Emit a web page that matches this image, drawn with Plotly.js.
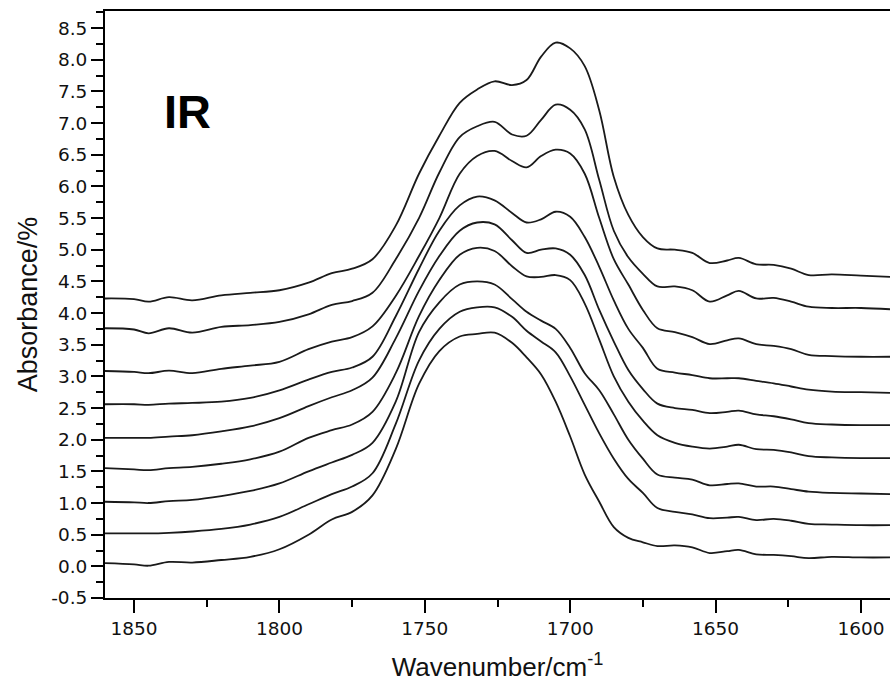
<!DOCTYPE html>
<html>
<head>
<meta charset="utf-8">
<script src="https://cdn.plot.ly/plotly-3.0.1.min.js"></script>
<style>html,body{margin:0;padding:0;background:#fff;}#chart{width:890px;height:682px;}</style>
</head>
<body>
<div id="chart"></div>
<script>
var wavenumber = [1860,1850,1845,1838,1830,1820,1810,1800,1790,1782,1775,1768,1760,1752,1745,1738,1732,1726,1720,1715,1710,1705,1700,1695,1690,1685,1680,1675,1670,1664,1658,1652,1646,1642,1636,1630,1624,1618,1610,1600,1590];

var spectrum1 = [0.05,0.03,0.01,0.07,0.06,0.10,0.15,0.27,0.50,0.74,0.86,1.12,1.85,2.88,3.40,3.63,3.67,3.69,3.53,3.30,3.03,2.60,2.05,1.45,1.02,0.62,0.45,0.38,0.32,0.33,0.30,0.21,0.24,0.26,0.19,0.18,0.16,0.13,0.15,0.14,0.14];
var spectrum2 = [0.52,0.52,0.52,0.53,0.55,0.59,0.66,0.78,0.98,1.14,1.26,1.47,2.25,3.25,3.75,4.02,4.09,4.09,3.94,3.72,3.55,3.38,3.00,2.55,2.10,1.70,1.38,1.16,0.92,0.86,0.82,0.76,0.77,0.78,0.73,0.75,0.72,0.67,0.66,0.65,0.65];
var spectrum3 = [1.02,1.01,1.00,1.03,1.05,1.11,1.19,1.31,1.50,1.64,1.76,1.95,2.60,3.70,4.17,4.45,4.50,4.45,4.22,4.02,3.88,3.75,3.45,3.05,2.78,2.40,2.00,1.70,1.45,1.40,1.37,1.28,1.30,1.31,1.26,1.26,1.22,1.18,1.16,1.15,1.14];
var spectrum4 = [1.55,1.53,1.52,1.55,1.57,1.62,1.69,1.81,2.03,2.15,2.24,2.44,3.05,3.95,4.52,4.92,5.03,4.98,4.74,4.58,4.57,4.60,4.52,4.15,3.58,3.00,2.60,2.30,2.07,1.95,1.89,1.86,1.89,1.92,1.85,1.84,1.80,1.74,1.72,1.71,1.71];
var spectrum5 = [2.03,2.03,2.03,2.05,2.07,2.13,2.21,2.34,2.53,2.67,2.78,2.98,3.60,4.35,4.90,5.30,5.43,5.40,5.15,4.95,5.00,5.02,4.92,4.60,4.05,3.55,3.10,2.80,2.57,2.50,2.47,2.42,2.44,2.46,2.40,2.37,2.32,2.26,2.24,2.23,2.23];
var spectrum6 = [2.56,2.56,2.55,2.57,2.58,2.60,2.66,2.78,2.95,3.07,3.14,3.31,3.95,4.70,5.30,5.70,5.84,5.78,5.58,5.43,5.48,5.60,5.52,5.20,4.73,4.20,3.75,3.45,3.12,3.06,3.02,2.97,2.97,2.97,2.93,2.89,2.84,2.79,2.76,2.75,2.74];
var spectrum7 = [3.085,3.07,3.05,3.09,3.05,3.12,3.17,3.23,3.43,3.55,3.62,3.79,4.27,4.90,5.50,6.20,6.48,6.56,6.40,6.30,6.48,6.58,6.52,6.20,5.50,4.85,4.45,4.05,3.76,3.70,3.62,3.51,3.57,3.60,3.51,3.48,3.43,3.34,3.32,3.31,3.31];
var spectrum8 = [3.76,3.74,3.68,3.76,3.69,3.78,3.81,3.86,3.98,4.13,4.19,4.32,4.85,5.50,6.22,6.78,6.95,7.02,6.82,6.80,7.05,7.29,7.21,6.90,6.10,5.30,4.88,4.62,4.42,4.42,4.36,4.18,4.28,4.35,4.23,4.24,4.18,4.10,4.08,4.08,4.06];
var spectrum9 = [4.23,4.22,4.18,4.25,4.20,4.28,4.32,4.36,4.48,4.63,4.70,4.85,5.38,6.20,6.80,7.32,7.53,7.66,7.60,7.68,8.05,8.27,8.18,7.90,7.20,6.15,5.55,5.20,5.02,5.00,4.95,4.79,4.83,4.87,4.77,4.76,4.70,4.60,4.61,4.59,4.57];

var yTickValues = [-0.5,0,0.5,1,1.5,2,2.5,3,3.5,4,4.5,5,5.5,6,6.5,7,7.5,8,8.5];
var yTickLabels = ['-0.5','0.0','0.5','1.0','1.5','2.0','2.5','3.0','3.5','4.0','4.5','5.0','5.5','6.0','6.5','7.0','7.5','8.0','8.5'];
var xTickValues = [1850,1800,1750,1700,1650,1600];
var xTickLabels = ['1850','1800','1750','1700','1650','1600'];

var spectra = [spectrum1,spectrum2,spectrum3,spectrum4,spectrum5,spectrum6,spectrum7,spectrum8,spectrum9];

var traces = spectra.map(function(s){
  return {x: wavenumber, y: s, type: 'scatter', mode: 'lines',
          line: {color: '#1a1a1a', width: 1.8, shape: 'spline', smoothing: 1},
          hoverinfo: 'skip', showlegend: false};
});

var tickFont = {family: 'DejaVu Sans, Liberation Sans, Arial, sans-serif', size: 18.5, color: '#111'};
var titleFont = {family: 'Liberation Sans, Arial, sans-serif', size: 26, color: '#111'};

var layout = {
  width: 890, height: 682,
  margin: {l: 105, r: 0, t: 11, b: 84},
  paper_bgcolor: '#fff', plot_bgcolor: '#fff',
  showlegend: false,
  xaxis: {
    range: [1860, 1590], tickmode: 'array', tickvals: xTickValues, ticktext: xTickLabels,
    ticks: 'outside', ticklen: 13, tickwidth: 2, tickcolor: '#000',
    showline: true, linewidth: 2, linecolor: '#000', mirror: true,
    showgrid: false, zeroline: false,
    minor: {tick0: 1600, dtick: 25, ticks: 'outside', ticklen: 7, tickwidth: 2, tickcolor: '#000', showgrid: false},
    tickfont: tickFont,
    title: {text: 'Wavenumber/cm<sup>-1</sup>', font: titleFont, standoff: 22}
  },
  yaxis: {
    range: [-0.5, 8.77], tickmode: 'array', tickvals: yTickValues, ticktext: yTickLabels,
    ticks: 'outside', ticklen: 12, tickwidth: 2, tickcolor: '#000',
    showline: true, linewidth: 2, linecolor: '#000', mirror: false,
    showgrid: false, zeroline: false,
    minor: {tick0: 0, dtick: 0.25, ticks: 'outside', ticklen: 7, tickwidth: 2, tickcolor: '#000', showgrid: false},
    tickfont: tickFont,
    title: {text: 'Absorbance/%', font: {family: 'Liberation Sans, Arial, sans-serif', size: 27, color: '#111'}, standoff: 6}
  },
  annotations: [{
    xref: 'paper', yref: 'paper', x: 0.105, y: 0.828,
    xanchor: 'center', yanchor: 'middle', showarrow: false,
    text: '<b>IR</b>',
    font: {family: 'Liberation Sans, Arial, sans-serif', size: 47, color: '#000'}
  }]
};

Plotly.newPlot('chart', traces, layout, {staticPlot: true, displayModeBar: false});
</script>
</body>
</html>
